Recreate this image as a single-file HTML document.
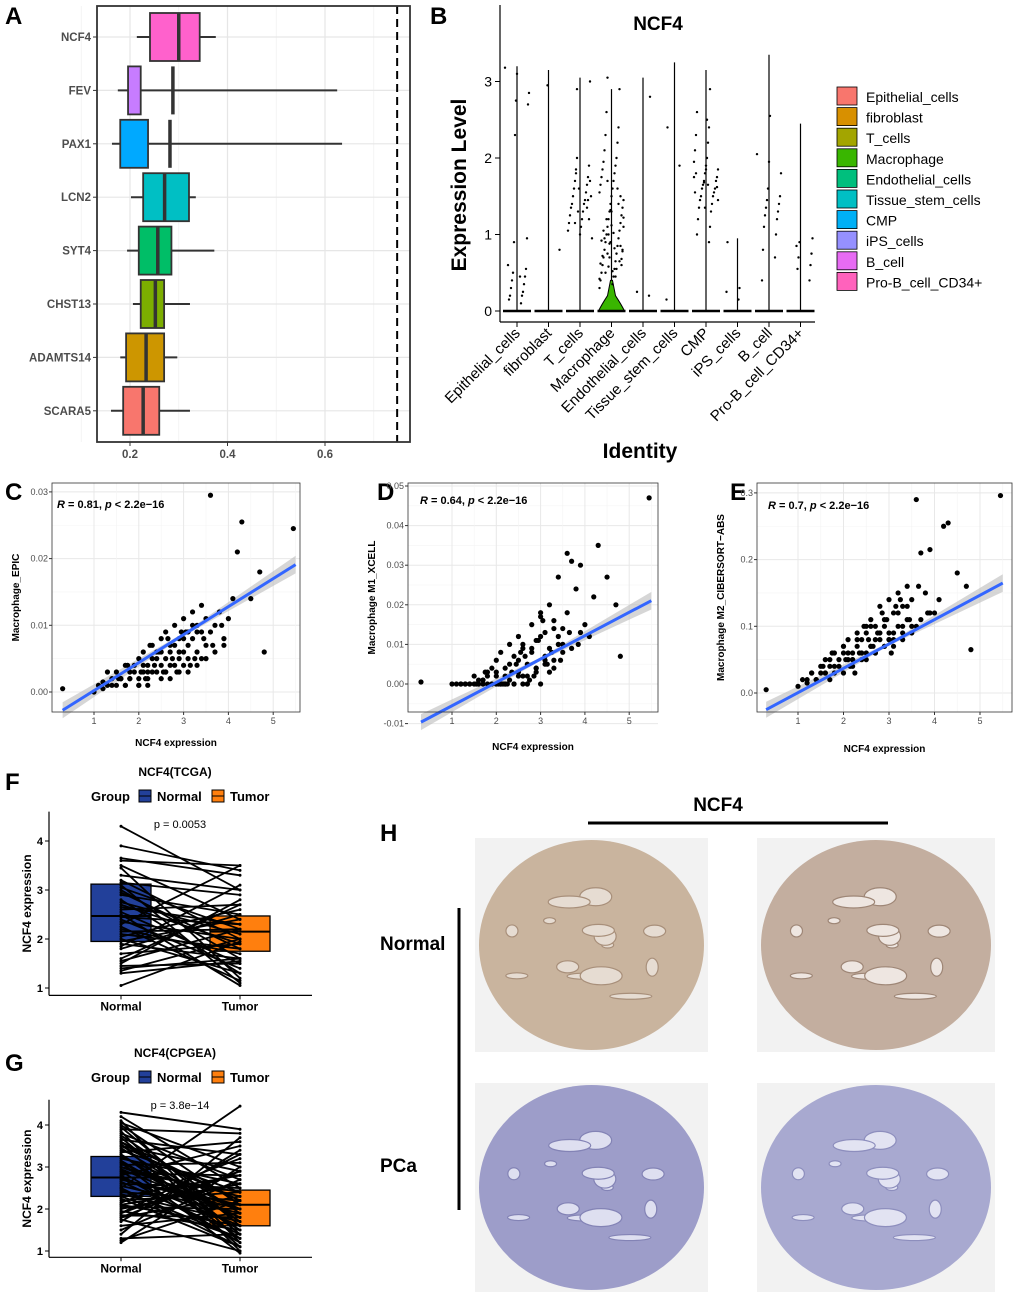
<!DOCTYPE html>
<html><head><meta charset="utf-8"><style>
body{margin:0;background:#fff}
svg{display:block;font-family:"Liberation Sans",Arial,sans-serif}
</style></head><body>
<svg id="fig" xmlns="http://www.w3.org/2000/svg" width="1020" height="1298" viewBox="0 0 1020 1298">
<rect width="1020" height="1298" fill="#fff"/>
</svg>
<script>
// ---------- Panel A data ----------
const aGenes=["NCF4","FEV","PAX1","LCN2","SYT4","CHST13","ADAMTS14","SCARA5"];
const aLo=[0.214,0.175,0.163,0.202,0.194,0.206,0.180,0.161];
const aQ1=[0.241,0.196,0.180,0.227,0.218,0.222,0.192,0.186];
const aMed=[0.300,0.288,0.282,0.271,0.257,0.252,0.233,0.227];
const aQ3=[0.343,0.222,0.237,0.321,0.285,0.270,0.270,0.260];
const aHi=[0.376,0.625,0.635,0.335,0.373,0.323,0.297,0.323];
const aCut=[0.748];
const aTicks=[0.2,0.4,0.6];
// ---------- Panel B data ----------
const bClusters=["Epithelial_cells","fibroblast","T_cells","Macrophage","Endothelial_cells","Tissue_stem_cells","CMP","iPS_cells","B_cell","Pro-B_cell_CD34+"];
const bMax=[3.2,3.15,3.05,2.9,3.05,3.25,3.15,0.95,3.35,2.45];
const bPts=[
[3.18,3.1,2.85,2.75,2.7,2.3,0.95,0.9,0.55,0.5,0.45,0.4,0.35,0.3,0.25,0.2,0.2,0.15,0.1,0.6,0.45],
[2.95,0.8],
[3.0,2.9,1.9,1.8,1.75,1.7,1.65,1.6,1.55,1.5,1.45,1.4,1.4,1.35,1.3,1.25,1.2,1.15,1.1,1.05,1.0,0.95,1.6,1.5,1.3,1.7,2.0,1.2,1.85,1.45,1.15,1.35],
[3.05,2.9,2.6,2.4,2.3,2.2,2.1,2.0,1.95,1.9,1.85,1.8,1.75,1.7,1.65,1.6,1.55,1.5,1.45,1.4,1.35,1.3,1.25,1.2,1.15,1.1,1.05,1.0,0.95,0.9,0.85,0.8,0.75,0.7,0.65,0.6,0.55,0.5,0.45,0.4,0.35,0.3,1.3,1.1,0.9,0.8,0.7,0.6,1.0,0.85,0.75,0.65,1.2,1.4,0.5,1.6,0.95,0.55,1.05,0.45,0.72,0.82,0.92,1.02,0.62,0.52,0.42,1.12,1.22,1.32,0.78,0.88,0.68,0.58,1.5,1.7],
[2.8,0.25,0.2],
[2.4,1.9,0.15],
[2.9,2.6,2.4,2.3,2.2,2.1,2.0,1.95,1.9,1.85,1.8,1.75,1.7,1.7,1.65,1.6,1.6,1.55,1.5,1.5,1.45,1.4,1.35,1.3,1.2,1.1,1.0,0.9,1.8,1.65,1.55,2.5,1.75,1.85,1.45,1.35,1.62,1.68],
[0.9,0.3,0.25,0.15],
[2.55,2.05,1.95,1.8,1.6,1.5,1.45,1.4,1.35,1.3,1.25,1.2,1.1,1.0,0.8,0.7,0.4],
[0.95,0.9,0.75,0.7,0.6,0.55,0.4,0.85]];
const bColors=["#F8766D","#D89000","#A3A500","#39B600","#00BF7D","#00BFC4","#00B0F6","#9590FF","#E76BF3","#FF62BC"];
const bTicks=[0,1,2,3];
// ---------- Panels C-E data (shared NCF4 expression) ----------
const ncf4A=[1.0,1.1,1.2,1.3,1.4,1.5,1.5,1.6,1.7,1.8,1.8,1.9,2.0,2.0,2.1,2.1,2.2,2.2,2.3,2.3,2.4,2.4,2.5,2.5,2.6,2.6,2.7,2.7,2.8,2.8,2.9,2.9,3.0,3.0,3.1,3.1,3.2,3.2,3.3,3.3,3.4,3.4,3.5,3.5,3.6,3.7,3.8,3.9,4.0,4.1,4.2,4.3,4.5,4.7,4.8,5.45,3.6,0.3,1.3,1.7,2.0,2.5,2.9,3.3,3.7,1.2,1.6,2.2,2.7,3.1,3.5,3.9];
const ncf4B=[1.4,1.6,1.7,1.9,2.0,2.1,2.2,2.3,2.4,2.5,2.6,2.7,2.8,2.9,3.0,3.1,3.2,3.3,3.4,2.15,2.35,2.55,2.75,2.95,3.15,1.8,2.05,2.45,2.65,2.85,3.05,3.25,3.45,3.65,3.85,1.55,1.75,2.25,2.6,3.0];
const epicA=[0.000,0.001,0.0005,0.001,0.002,0.001,0.003,0.002,0.001,0.003,0.002,0.004,0.002,0.005,0.003,0.006,0.002,0.004,0.005,0.007,0.003,0.006,0.004,0.008,0.005,0.009,0.006,0.004,0.007,0.010,0.005,0.008,0.006,0.011,0.007,0.009,0.008,0.012,0.006,0.010,0.009,0.013,0.007,0.011,0.0295,0.010,0.012,0.008,0.011,0.014,0.021,0.0255,0.014,0.018,0.006,0.0245,0.009,0.0005,0.003,0.004,0.001,0.002,0.003,0.004,0.006,0.0015,0.002,0.001,0.002,0.003,0.005,0.007];
const epicB=[0.001,0.002,0.001,0.003,0.001,0.004,0.003,0.003,0.005,0.006,0.003,0.007,0.004,0.006,0.004,0.005,0.010,0.009,0.005,0.002,0.004,0.003,0.005,0.009,0.004,0.002,0.003,0.006,0.008,0.003,0.009,0.005,0.008,0.007,0.010,0.002,0.004,0.007,0.003,0.008];
const m1A=[0,0,0,0,0,0,0.002,0,0,0.003,0,0.004,0,0.006,0,0.008,0.002,0,0.005,0.010,0,0.007,0.003,0.012,0,0.010,0.005,0,0.008,0.015,0.003,0.011,0,0.018,0.006,0.013,0.009,0.020,0.004,0.016,0.012,0.027,0.008,0.014,0.033,0.031,0.024,0.030,0.015,0.012,0.022,0.035,0.027,0.020,0.007,0.047,0.018,0.0005,0,0.001,0.003,0.002,0.004,0.006,0.009,0,0.001,0,0.002,0.005,0.010,0.013];
const m1B=[0,0,0.001,0,0.002,0,0.004,0.001,0,0.006,0.002,0,0.009,0.004,0.012,0.007,0.003,0.014,0.010,0,0.003,0.008,0.001,0.011,0.005,0.002,0,0.005,0.007,0.002,0.016,0.008,0.006,0.013,0.010,0,0.003,0,0.009,0.017];
const m2A=[0.01,0.02,0.015,0.03,0.02,0.04,0.03,0.05,0.02,0.06,0.04,0.05,0.03,0.07,0.05,0.08,0.04,0.06,0.07,0.09,0.05,0.08,0.06,0.10,0.07,0.11,0.08,0.06,0.09,0.13,0.07,0.10,0.08,0.14,0.09,0.12,0.10,0.15,0.08,0.13,0.11,0.16,0.09,0.14,0.29,0.21,0.15,0.215,0.12,0.14,0.25,0.255,0.18,0.16,0.065,0.296,0.10,0.005,0.03,0.04,0.06,0.05,0.07,0.09,0.11,0.02,0.03,0.05,0.06,0.08,0.10,0.12];
const m2B=[0.02,0.03,0.05,0.04,0.07,0.06,0.05,0.08,0.06,0.09,0.07,0.10,0.08,0.11,0.09,0.07,0.12,0.10,0.13,0.04,0.06,0.08,0.09,0.11,0.13,0.03,0.05,0.10,0.07,0.12,0.06,0.14,0.11,0.16,0.12,0.04,0.06,0.03,0.10,0.08];
const ncf4=ncf4A.concat(ncf4B), epic=epicA.concat(epicB), m1=m1A.concat(m1B), m2=m2A.concat(m2B);
// fitted lines: [intercept, slope]
const fitC=[-0.004,0.0042], fitD=[-0.0114,0.0059], fitE=[-0.036,0.0365];
const cTicksY=[0,0.01,0.02,0.03], cTickLbl=["0.00","0.01","0.02","0.03"];
const dTicksY=[-0.01,0,0.01,0.02,0.03,0.04,0.05], dTickLbl=["-0.01","0.00","0.01","0.02","0.03","0.04","0.05"];
const eTicksY=[0,0.1,0.2,0.3], eTickLbl=["0.0","0.1","0.2","0.3"];
const xTicks=[1,2,3,4,5];
// ---------- Panels F, G data ----------
const fNormal=[4.3,3.9,3.65,3.6,3.5,3.45,3.3,3.2,3.1,3.05,3.0,2.95,2.9,2.8,2.75,2.7,2.6,2.55,2.5,2.45,2.4,2.35,2.3,2.2,2.15,2.1,2.05,2.0,1.95,1.9,1.85,1.8,1.7,1.6,1.55,1.5,1.45,1.4,1.35,1.3,1.05,2.25,2.65,3.15];
const fTumor=[3.0,3.4,3.3,3.5,2.4,1.2,3.0,2.0,1.1,2.2,1.6,1.8,2.5,1.3,2.1,1.9,2.7,1.5,1.05,2.3,1.4,2.0,3.5,1.7,2.2,1.8,2.6,1.3,2.4,1.6,3.1,2.5,1.9,2.7,2.2,2.8,1.5,1.6,2.0,1.55,1.95,1.15,2.3,2.9];
const fBoxN=[1.95,2.47,3.12], fBoxT=[1.75,2.15,2.47];
const gNormal=[4.3,4.2,4.1,4.05,4.0,3.95,3.9,3.85,3.8,3.75,3.7,3.65,3.6,3.55,3.5,3.45,3.4,3.35,3.3,3.25,3.2,3.15,3.1,3.05,3.0,2.95,2.9,2.85,2.8,2.75,2.7,2.65,2.6,2.55,2.5,2.45,2.4,2.35,2.3,2.25,2.2,2.15,2.1,2.05,2.0,1.95,1.9,1.85,1.8,1.75,1.7,1.6,1.5,1.4,1.3,1.25,1.2,2.8,3.0,3.6,3.3,2.9,2.5,2.1,1.9,3.1,2.7,2.3,3.5,1.8];
const gTumor=[3.9,2.5,1.2,3.0,2.1,1.6,3.8,1.0,2.7,1.9,1.4,3.3,2.2,1.1,2.9,1.7,2.4,3.6,1.3,2.0,2.6,1.5,0.95,3.1,2.3,1.8,1.2,2.8,3.5,1.6,2.1,1.4,2.5,1.9,4.45,1.3,2.2,1.7,2.8,1.1,2.4,3.2,1.6,2.0,2.6,1.5,2.9,1.8,2.3,1.0,3.4,1.9,2.7,3.7,1.4,2.2,3.0,1.2,2.0,1.7,1.5,2.4,1.1,2.6,3.3,1.8,2.0,1.3,2.2,2.9];
const gBoxN=[2.3,2.75,3.25], gBoxT=[1.6,2.1,2.45];
const pairTicks=[1,2,3,4];

const NS="http://www.w3.org/2000/svg";
const svg=document.getElementById('fig');
function mk(tag,attrs,parent){const e=document.createElementNS(NS,tag);for(const k in attrs)e.setAttribute(k,attrs[k]);(parent||svg).appendChild(e);return e;}
function txt(s,attrs,parent){const e=mk('text',attrs,parent);e.textContent=s;return e;}
function grp(){return mk('g',{});}

[["A",5,24],["B",430,24],["C",5,500],["D",377,500],["E",730,500],["F",5,790],["G",5,1071],["H",380,841]].forEach(p=>{
 const t=txt(p[0],{x:p[1],y:p[2],'font-size':24,'font-weight':'bold',fill:'#000'});
 
 
});

// ===== Panel A =====
(function(){
 const g=grp();
 
 
 const X=v=>130+(v-0.2)*487.5, Y=i=>37+i*53.4;
 mk('rect',{x:97,y:6,width:313,height:436,fill:'#fff'},g);
 [0.1,0.3,0.5,0.7].forEach(v=>mk('line',{x1:X(v),x2:X(v),y1:6,y2:442,stroke:'#f2f2f2','stroke-width':0.8},g));
 aTicks.forEach(v=>mk('line',{x1:X(v),x2:X(v),y1:6,y2:442,stroke:'#e6e6e6','stroke-width':1.2},g));
 aGenes.forEach((n,i)=>mk('line',{x1:97,x2:410,y1:Y(i),y2:Y(i),stroke:'#e6e6e6','stroke-width':1.2},g));
 const cols=["#FF61CC","#C77CFF","#00A9FF","#00BFC4","#00BE67","#7CAE00","#CD9600","#F8766D"];
 aGenes.forEach((n,i)=>{
  const y=Y(i);
  const w=mk('line',{x1:X(aLo[i]),x2:X(aHi[i]),y1:y,y2:y,stroke:'#333','stroke-width':2},g);
  
  
  const b=mk('rect',{x:X(aQ1[i]),y:y-24,width:X(aQ3[i])-X(aQ1[i]),height:48,fill:cols[i],stroke:'#333','stroke-width':1.8},g);
  
  
  const m=mk('line',{x1:X(aMed[i]),x2:X(aMed[i]),y1:y-24,y2:y+24,stroke:'#333','stroke-width':3.5},g);
  
  
  mk('line',{x1:93,x2:97,y1:y,y2:y,stroke:'#333','stroke-width':1},g);
  const t=txt(n,{x:91,y:y+4,'text-anchor':'end','font-size':11.5,'font-weight':'bold',fill:'#4d4d4d'},g);
  
  
 });
 const d=mk('line',{x1:X(aCut[0]),x2:X(aCut[0]),y1:6,y2:442,stroke:'#000','stroke-width':2,'stroke-dasharray':'8,5'},g);
 
 
 mk('rect',{x:97,y:6,width:313,height:436,fill:'none',stroke:'#333','stroke-width':1.8},g);
 aTicks.forEach(v=>{
  mk('line',{x1:X(v),x2:X(v),y1:442,y2:446,stroke:'#333'},g);
  const t=txt(v.toFixed(1),{x:X(v),y:458,'text-anchor':'middle','font-size':11.5,'font-weight':'bold',fill:'#4d4d4d'},g);
  
  
 });
})();

// ===== Panel B =====
(function(){
 const g=grp();
 
 
 const Y=v=>311-v*76.5, X=i=>517+i*31.5;
 const ti=txt('NCF4',{x:658,y:30,'text-anchor':'middle','font-size':19,'font-weight':'bold'},g);
 
 
 mk('line',{x1:500,x2:500,y1:5,y2:322,stroke:'#000','stroke-width':1.2},g);
 mk('line',{x1:500,x2:815,y1:322,y2:322,stroke:'#000','stroke-width':1.2},g);
 bTicks.forEach(v=>{
  mk('line',{x1:495,x2:500,y1:Y(v),y2:Y(v),stroke:'#000'},g);
  const t=txt(String(v),{x:492,y:Y(v)+5,'text-anchor':'end','font-size':14},g);
  
  
 });
 const yl=txt('Expression Level',{x:466,y:185,transform:'rotate(-90 466 185)','text-anchor':'middle','font-size':21,'font-weight':'bold'},g);
 
 
 const xl=txt('Identity',{x:640,y:458,'text-anchor':'middle','font-size':21,'font-weight':'bold'},g);
 
 
 bClusters.forEach((c,i)=>{
  const x=X(i);
  const v=mk('line',{x1:x,x2:x,y1:Y(bMax[i]),y2:Y(0),stroke:'#000','stroke-width':1.2},g);
  
  
  if(c==="Macrophage"){
   const p=mk('path',{d:`M${x-13},${Y(0)} Q${x-10},${Y(0.08)} ${x-4},${Y(0.2)} L${x-1},${Y(0.4)} L${x+1},${Y(0.4)} L${x+4},${Y(0.2)} Q${x+10},${Y(0.08)} ${x+13},${Y(0)} Z`,fill:bColors[i],stroke:'#000','stroke-width':1},g);
   
   
  }
  mk('line',{x1:x-14,x2:x+14,y1:Y(0),y2:Y(0),stroke:'#000','stroke-width':2.4},g);
  bPts[i].forEach((val,j)=>{
   const jit=((j*37+i*11)%25)-12;
   const d=mk('circle',{cx:x+jit,cy:Y(val),r:1.2,fill:'#000'},g);
   
   
  });
  mk('line',{x1:x,x2:x,y1:322,y2:327,stroke:'#000'},g);
  const t=txt(c,{x:x+4,y:334,transform:`rotate(-45 ${x+4} 334)`,'text-anchor':'end','font-size':15},g);
  
  
  const sq=mk('rect',{x:837,y:87+i*20.6,width:20,height:18,fill:bColors[i],stroke:'#000','stroke-width':0.8},g);
  
  
  const lt=txt(c,{x:866,y:102+i*20.6,'font-size':14},g);
  
  
 });
})();

// ===== Panels C, D, E =====
function scatter(name,x0,x1,y0,y1,X,Y,ys,fit,ticks,lbls,ylab,rlab,rx,ry,xlY){
 const g=grp();
 
 
 mk('rect',{x:x0,y:y0,width:x1-x0,height:y1-y0,fill:'#fff'},g);
 for(let k=0;k<ticks.length;k++){
  mk('line',{x1:x0,x2:x1,y1:Y(ticks[k]),y2:Y(ticks[k]),stroke:'#e8e8e8','stroke-width':1},g);
  if(k<ticks.length-1){const m=(ticks[k]+ticks[k+1])/2;mk('line',{x1:x0,x2:x1,y1:Y(m),y2:Y(m),stroke:'#f4f4f4','stroke-width':0.6},g);}
 }
 xTicks.forEach(v=>{mk('line',{x1:X(v),x2:X(v),y1:y0,y2:y1,stroke:'#e8e8e8'},g);mk('line',{x1:X(v+0.5),x2:X(v+0.5),y1:y0,y2:y1,stroke:'#f4f4f4','stroke-width':0.6},g);});
 const a=fit[0], b=fit[1];
 const xa=0.3,xb=5.5, spread=4;
 const band=mk('path',{d:`M${X(xa)},${Y(a+b*xa)-spread*2} L${X(3)},${Y(a+b*3)-spread*0.4} L${X(xb)},${Y(a+b*xb)-spread*2.2} L${X(xb)},${Y(a+b*xb)+spread*2.2} L${X(3)},${Y(a+b*3)+spread*0.4} L${X(xa)},${Y(a+b*xa)+spread*2} Z`,fill:'#bbb','fill-opacity':0.6},g);
 
 
 for(let i=0;i<ncf4.length;i++){
  const c=mk('circle',{cx:X(ncf4[i]),cy:Y(ys[i]),r:2.6,fill:'#000'},g);
  
  
 }
 const l=mk('line',{x1:X(xa),y1:Y(a+b*xa),x2:X(xb),y2:Y(a+b*xb),stroke:'#3366FF','stroke-width':3},g);
 
 
 mk('rect',{x:x0,y:y0,width:x1-x0,height:y1-y0,fill:'none',stroke:'#333','stroke-width':0.8},g);
 ticks.forEach((v,k)=>{
  mk('line',{x1:x0-3,x2:x0,y1:Y(v),y2:Y(v),stroke:'#333'},g);
  const t=txt(lbls[k],{x:x0-4,y:Y(v)+3,'text-anchor':'end','font-size':9,fill:'#4d4d4d'},g);
  
  
 });
 xTicks.forEach(v=>{
  mk('line',{x1:X(v),x2:X(v),y1:y1,y2:y1+3,stroke:'#333'},g);
  const t=txt(String(v),{x:X(v),y:y1+12,'text-anchor':'middle','font-size':9,fill:'#4d4d4d'},g);
  
  
 });
 const xl=txt('NCF4 expression',{x:(x0+x1)/2,y:xlY,'text-anchor':'middle','font-size':10,'font-weight':'bold'},g);
 
 
 const yx=x0-33;
 const yl=txt(ylab,{x:yx,y:(y0+y1)/2,transform:`rotate(-90 ${yx} ${(y0+y1)/2})`,'text-anchor':'middle','font-size':10,'font-weight':'bold'},g);
 
 
 const r=mk('text',{x:rx,y:ry,'font-size':11,'font-weight':'bold'},g);
 r.innerHTML=`<tspan font-style="italic">R</tspan> = ${rlab}, <tspan font-style="italic">p</tspan> &lt; 2.2e−16`;
 
 
}
scatter('panel-c-scatter',52,300,483,712,v=>94+(v-1)*44.8,v=>692-v*6670,epic,fitC,cTicksY,cTickLbl,'Macrophage_EPIC','0.81',57,508,746);
scatter('panel-d-scatter',408,658,483,712,v=>452+(v-1)*44.3,v=>684-v*3960,m1,fitD,dTicksY,dTickLbl,'Macrophage M1_XCELL','0.64',420,504,750);
scatter('panel-e-scatter',757,1012,483,712,v=>798+(v-1)*45.5,v=>693-v*667,m2,fitE,eTicksY,eTickLbl,'Macrophage M2_CIBERSORT−ABS','0.7',768,509,752);

// ===== Panels F, G =====
function paired(name,title,pval,dy,Y,nv,tv,bn,bt,lw){
 const g=grp();
 
 
 const xN=121,xT=240;
 const t=txt(title,{x:175,y:776+dy,'text-anchor':'middle','font-size':12,'font-weight':'bold'},g);
 
 
 const lg=txt('Group',{x:91,y:801+dy,'font-size':13,'font-weight':'bold'},g);
 
 
 [["Normal",139,"#22409A"],["Tumor",212,"#FF7F0E"]].forEach(e=>{
  const s=mk('rect',{x:e[1],y:790+dy,width:12,height:12,fill:e[2],stroke:'#000','stroke-width':1},g);
  
  
  mk('line',{x1:e[1],x2:e[1]+12,y1:796+dy,y2:796+dy,stroke:'#000'},g);
  const l=txt(e[0],{x:e[1]+18,y:801+dy,'font-size':13,'font-weight':'bold'},g);
  
  
 });
 const p=txt(pval,{x:180,y:828+dy,'text-anchor':'middle','font-size':11},g);
 
 
 [[xN,bn,"#22409A","box-normal"],[xT,bt,"#FF7F0E","box-tumor"]].forEach(b=>{
  const r=mk('rect',{x:b[0]-30,y:Y(b[1][2]),width:60,height:Y(b[1][0])-Y(b[1][2]),fill:b[2],stroke:'#000','stroke-width':1.3},g);
  
  
  mk('line',{x1:b[0]-30,x2:b[0]+30,y1:Y(b[1][1]),y2:Y(b[1][1]),stroke:'#000','stroke-width':2},g);
 });
 const n=Math.min(nv.length,tv.length);
 for(let i=0;i<n;i++){
  const l=mk('line',{x1:xN,y1:Y(nv[i]),x2:xT,y2:Y(tv[i]),stroke:'#000','stroke-width':lw},g);
  
  
  mk('circle',{cx:xN,cy:Y(nv[i]),r:1.5,fill:'#000'},g);
  mk('circle',{cx:xT,cy:Y(tv[i]),r:1.5,fill:'#000'},g);
 }
 const yTop=Y(4.6), yb=Y(0.85);
 mk('line',{x1:49,x2:49,y1:yTop,y2:yb,stroke:'#000','stroke-width':1.2},g);
 mk('line',{x1:49,x2:312,y1:yb,y2:yb,stroke:'#000','stroke-width':1.2},g);
 pairTicks.forEach(v=>{
  mk('line',{x1:45,x2:49,y1:Y(v),y2:Y(v),stroke:'#000'},g);
  const tt=txt(String(v),{x:43,y:Y(v)+4,'text-anchor':'end','font-size':11,'font-weight':'bold'},g);
  
  
 });
 [["Normal",xN],["Tumor",xT]].forEach(e=>{
  mk('line',{x1:e[1],x2:e[1],y1:yb,y2:yb+4,stroke:'#000'},g);
  const tt=txt(e[0],{x:e[1],y:yb+15,'text-anchor':'middle','font-size':12,'font-weight':'bold'},g);
  
  
 });
 const my=(yTop+yb)/2;
 const yl=txt('NCF4 expression',{x:31,y:my,transform:`rotate(-90 31 ${my})`,'text-anchor':'middle','font-size':12,'font-weight':'bold'},g);
 
 
}
paired('panel-f-paired','NCF4(TCGA)','p = 0.0053',0,v=>988-(v-1)*49,fNormal,fTumor,fBoxN,fBoxT,1.8);
paired('panel-g-paired','NCF4(CPGEA)','p = 3.8e−14',281,v=>1251-(v-1)*42,gNormal,gTumor,gBoxN,gBoxT,1.9);

// ===== Panel H =====
(function(){
 const g=grp();
 
 
 const t=txt('NCF4',{x:718,y:811,'text-anchor':'middle','font-size':19,'font-weight':'bold'},g);
 
 
 mk('line',{x1:588,x2:888,y1:823,y2:823,stroke:'#000','stroke-width':3},g);
 mk('line',{x1:459,x2:459,y1:908,y2:1210,stroke:'#000','stroke-width':3},g);
 const n=txt('Normal',{x:380,y:950,'font-size':19,'font-weight':'bold'},g);
 
 
 const pc=txt('PCa',{x:380,y:1172,'font-size':19,'font-weight':'bold'},g);
 
 
 const imgs=[[475,838,233,214,'#c9b49e','#e6dcd2','#a88f7a','normal-1'],[757,838,238,214,'#c3ae9f','#eee6e1','#9e8676','normal-2'],
  [475,1083,233,209,'#9d9dc9','#dedff0','#8383b5','pca-1'],[757,1083,238,209,'#a8a9d0','#e2e3f2','#8d8ebd','pca-2']];
 imgs.forEach(im=>{
  const gg=mk('g',{},g);
  
  
  mk('rect',{x:im[0],y:im[1],width:im[2],height:im[3],fill:'#f2f2f2'},gg);
  const cx=im[0]+im[2]/2, cy=im[1]+im[3]/2, r=Math.min(im[2],im[3])/2-2;
  mk('ellipse',{cx:cx,cy:cy,rx:im[2]/2-4,ry:r,fill:im[4]},gg);
  for(let k=0;k<14;k++){
   const a=k*2.4, rr=(k%5+1)*r/6.5;
   mk('ellipse',{cx:cx+Math.cos(a)*rr,cy:cy+Math.sin(a)*rr,rx:6+(k%4)*5,ry:3+(k%3)*3,fill:im[5],stroke:im[6],'stroke-width':1.2},gg);
  }
 });
})();
</script>
</body></html>
